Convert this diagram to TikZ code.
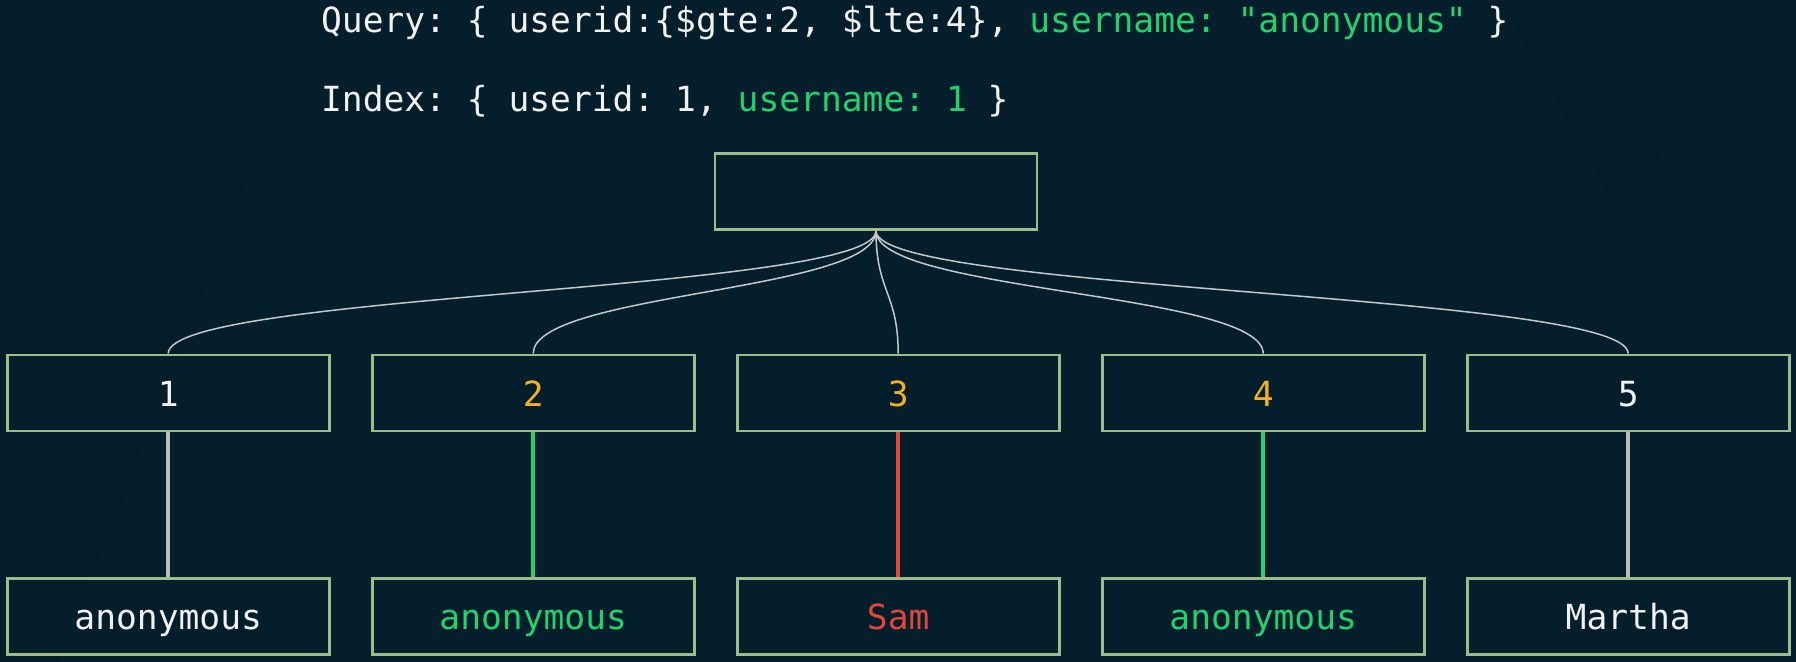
\documentclass[tikz,border=0pt]{standalone}
\usepackage{fontspec}
\newfontfamily\codefont{DejaVu Sans Mono}
\definecolor{bg}{HTML}{041E2B}
\definecolor{bgdark}{HTML}{031C28}
\definecolor{boxline}{HTML}{9DBB8B}
\definecolor{conncol}{HTML}{C4C8CA}
\definecolor{vgray}{HTML}{BDBDBD}
\definecolor{tgreen}{HTML}{22D26E}
\definecolor{tyellow}{HTML}{F2B12A}
\definecolor{tred}{HTML}{E2453A}
\definecolor{twhite}{HTML}{F2F2F2}
\tikzset{
  keybox/.style={draw=boxline, line width=1.4pt, fill=bg, rectangle,
    minimum width=161pt, minimum height=38pt, inner sep=0pt,
    text height=13.5pt, text depth=0pt, text=twhite,
    font=\codefont\fontsize{17.3pt}{20pt}\selectfont\frenchspacing},
  rootbox/.style={keybox, minimum width=161pt},
  conn/.style={draw=conncol, line width=0.75pt},
  vline/.style={line width=2pt},
  codetext/.style={anchor=base west, inner sep=0pt, text=twhite,
    font=\codefont\fontsize{17.3pt}{20pt}\selectfont\frenchspacing}
}
\begin{document}
\frenchspacing
\begin{tikzpicture}[x=0.5pt,y=-0.5pt]
\fill[bg] (0,0) rectangle (1796,662);
\useasboundingbox (0,0) rectangle (1796,662);
% faint background shapes
\fill[bgdark] (0,0) -- (315,0) -- (60,662) -- (0,662) -- cycle;
\fill[bgdark] (1500,0) -- (1765,0) -- (1620,215) -- cycle;

\node[codetext] (query) at (320.7,33) {Query: \{ userid:\{\$gte:2, \$lte:4\}, {\color{tgreen}username: "anonymous"} \}};
\node[codetext] (index) at (320.7,112) {Index: \{ userid: 1, {\color{tgreen}username: 1} \}};

\node[rootbox] (root) at (876,191.5) {};

\node[keybox] (k1) at (168.2,393) {1};
\node[keybox, text=tyellow] (k2) at (533.2,393) {2};
\node[keybox, text=tyellow] (k3) at (898.2,393) {3};
\node[keybox, text=tyellow] (k4) at (1263.2,393) {4};
\node[keybox] (k5) at (1628.2,393) {5};

\node[keybox] (v1) at (168.2,616.5) {anonymous};
\node[keybox, text=tgreen] (v2) at (533.2,616.5) {anonymous};
\node[keybox, text=tred] (v3) at (898.2,616.5) {Sam};
\node[keybox, text=tgreen] (v4) at (1263.2,616.5) {anonymous};
\node[keybox] (v5) at (1628.2,616.5) {Martha};

\foreach \k in {k1,k2,k3,k4,k5}{
  \draw[conn] (root.south) .. controls +(0,61) and +(0,-61) .. (\k.north);
}

\draw[vline, vgray] (k1.south) -- (v1.north);
\draw[vline, tgreen] (k2.south) -- (v2.north);
\draw[vline, tred] (k3.south) -- (v3.north);
\draw[vline, tgreen] (k4.south) -- (v4.north);
\draw[vline, vgray] (k5.south) -- (v5.north);
\end{tikzpicture}
\end{document}
